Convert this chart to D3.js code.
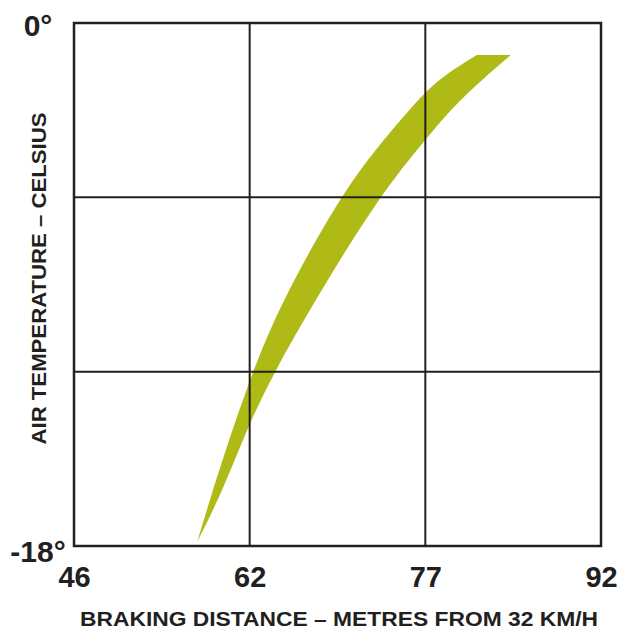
<!DOCTYPE html>
<html>
<head>
<meta charset="utf-8">
<script src="https://cdn.jsdelivr.net/npm/d3@7"></script>
<style>
  body { margin: 0; background: #fff; }
  text { font-family: "Liberation Sans Narrow", "Liberation Sans", Arial, sans-serif; font-weight: bold; fill: #231f20; }
</style>
</head>
<body>
<div id="chart"></div>
<script>
// tick labels
const xTicks = [46, 62, 77, 92];
const yTicks = [0, -6, -12, -18];
const yLabelTicks = [0, -18];

// band edges: air temperature vs braking distance
// shortest distance edge (left)
const nearTemps = [-1.1, -1.72, -2.37, -3.1, -4.27, -5.99, -9.53, -12.01, -15.28, -16.76, -17.85];
const nearDist  = [81.4, 78.9, 77.0, 75.4, 72.9, 69.7, 64.8, 62.2, 59.3, 58.1, 57.23];
// longest distance edge (right)
const farTemps = [-1.1, -1.72, -2.82, -3.92, -5.99, -9.53, -12.01, -13.76, -15.28, -16.76, -17.85];
const farDist  = [84.3, 82.5, 79.5, 77.2, 73.0, 67.6, 64.1, 62.0, 60.4, 58.7, 57.23];

const nearEdge = nearTemps.map((t, i) => ({t: t, m: nearDist[i]}));
const farEdge = farTemps.map((t, i) => ({t: t, m: farDist[i]})).reverse();

// set the dimensions and margins of the graph
const margin = {top: 23, right: 19, bottom: 85, left: 74},
  width = 620 - margin.left - margin.right,
  height = 631 - margin.top - margin.bottom;

const svg = d3.select("#chart")
  .append("svg")
    .attr("width", 620)
    .attr("height", 631)
  .append("g")
    .attr("transform", `translate(${margin.left},${margin.top})`);

// x is piecewise, tick labels are evenly spaced on the grid
const x = d3.scaleLinear()
  .domain(xTicks)
  .range([0, width / 3, 2 * width / 3, width]);

const y = d3.scaleLinear()
  .domain([0, -18])
  .range([0, height]);

// the band: left edge down, right edge back up
const edge = d3.line()
  .x(d => x(d.m))
  .y(d => y(d.t))
  .curve(d3.curveBasis);

const bandPath = edge(nearEdge) + edge(farEdge).replace(/^M/, "L") + "Z";

svg.append("path")
  .attr("d", bandPath)
  .attr("fill", "#afba17");

// grid lines
svg.append("g")
  .selectAll("line")
  .data(xTicks.slice(1, -1))
  .join("line")
    .attr("x1", d => x(d)).attr("x2", d => x(d))
    .attr("y1", 0).attr("y2", height)
    .attr("stroke", "#231f20").attr("stroke-width", 2);

svg.append("g")
  .selectAll("line")
  .data(yTicks.slice(1, -1))
  .join("line")
    .attr("y1", d => y(d)).attr("y2", d => y(d))
    .attr("x1", 0).attr("x2", width)
    .attr("stroke", "#231f20").attr("stroke-width", 2);

// frame
svg.append("rect")
  .attr("width", width)
  .attr("height", height)
  .attr("fill", "none")
  .attr("stroke", "#231f20")
  .attr("stroke-width", 2.5);

// X axis labels
const xAxis = svg.append("g")
  .attr("transform", `translate(0, ${height})`)
  .call(d3.axisBottom(x).tickValues(xTicks).tickSize(0).tickPadding(20));
xAxis.select(".domain").remove();
xAxis.selectAll("text")
  .style("font-size", "29px")
  .style("font-family", null)
  .attr("dy", "0.71em")
  .attr("fill", "#231f20");

// Y axis labels
const yAxis = svg.append("g")
  .call(d3.axisLeft(y).tickValues(yLabelTicks).tickSize(0)
    .tickFormat(d => d + "\u00b0"));
yAxis.select(".domain").remove();
yAxis.selectAll("text")
  .style("font-size", "30px")
  .style("font-family", null)
  .attr("text-anchor", "middle")
  .attr("x", -36)
  .attr("dy", d => d === 0 ? "0.4em" : "0.53em")
  .attr("fill", "#231f20");

// X axis title
svg.append("text")
  .attr("x", 80 - margin.left + 259)
  .attr("y", height + 80)
  .attr("text-anchor", "middle")
  .attr("textLength", 518)
  .attr("lengthAdjust", "spacingAndGlyphs")
  .style("font-size", "21px")
  .text("BRAKING DISTANCE \u2013 METRES FROM 32 KM/H");

// Y axis title
svg.append("text")
  .attr("transform", "rotate(-90)")
  .attr("x", -height / 2 + 6)
  .attr("y", -28)
  .attr("text-anchor", "middle")
  .attr("textLength", 332)
  .attr("lengthAdjust", "spacingAndGlyphs")
  .style("font-size", "21px")
  .text("AIR TEMPERATURE \u2013 CELSIUS");
</script>
</body>
</html>
